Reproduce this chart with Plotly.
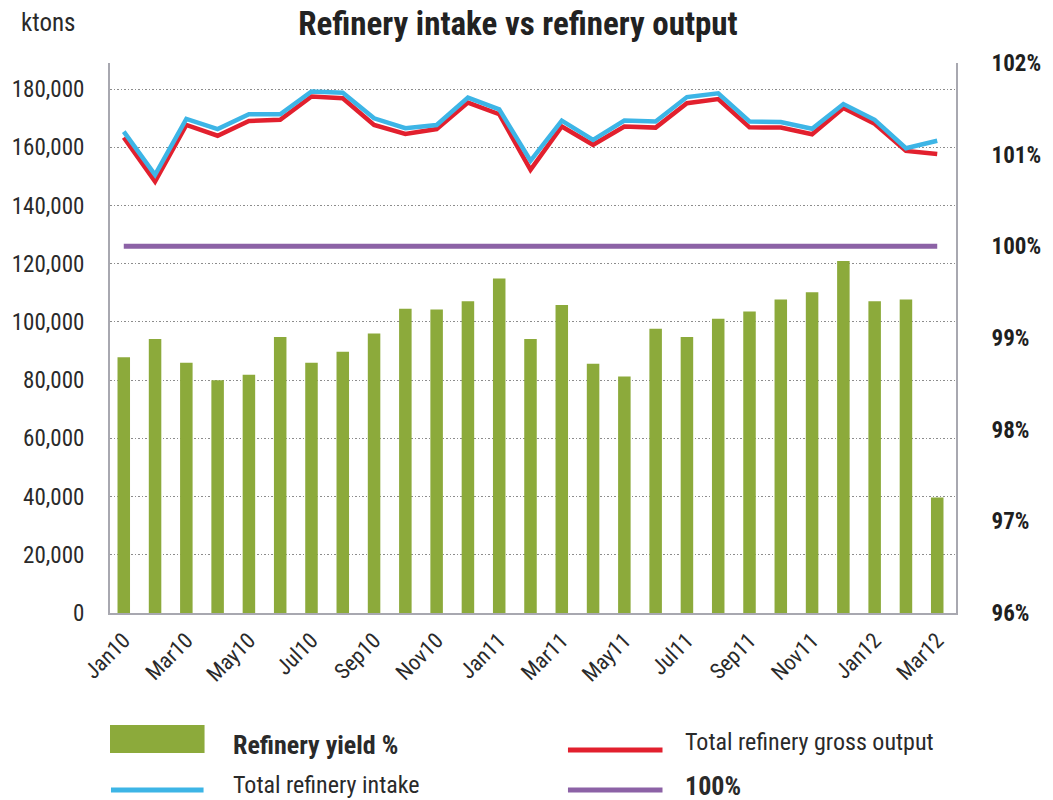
import plotly.graph_objects as go

months = ["Jan10", "Feb10", "Mar10", "Apr10", "May10", "Jun10", "Jul10", "Aug10", "Sep10",
          "Oct10", "Nov10", "Dec10", "Jan11", "Feb11", "Mar11", "Apr11", "May11", "Jun11",
          "Jul11", "Aug11", "Sep11", "Oct11", "Nov11", "Dec11", "Jan12", "Feb12", "Mar12"]

refinery_yield_pct = [98.79, 98.99, 98.73, 98.54, 98.60, 99.01, 98.73, 98.85, 99.05,
                      99.32, 99.31, 99.40, 99.65, 98.99, 99.36, 98.72, 98.58, 99.10,
                      99.01, 99.21, 99.29, 99.42, 99.50, 99.84, 99.40, 99.42, 97.26]

total_intake = [165400, 150600, 169800, 166300, 171400, 171400, 179200, 178800, 170000,
                166600, 167700, 177100, 173100, 155400, 169200, 162600, 169200, 168900,
                177300, 178600, 168900, 168700, 166400, 174900, 169500, 159700, 162300]

total_gross_output = [163400, 148300, 167700, 164000, 169100, 169500, 177500, 176900, 167700,
                      164600, 166300, 175400, 171400, 152300, 167200, 160900, 167200, 166800,
                      175200, 176600, 166900, 166800, 164500, 173500, 168100, 158800, 157700]

hundred_pct = [100.0] * len(months)

left_ticks = [0, 20000, 40000, 60000, 80000, 100000, 120000, 140000, 160000, 180000]
left_tick_text = ["0", "20,000", "40,000", "60,000", "80,000", "100,000", "120,000",
                  "140,000", "160,000", "180,000"]
right_ticks = [96, 97, 98, 99, 100, 101, 102]
right_tick_text = ["<b>96%</b>", "<b>97%</b>", "<b>98%</b>", "<b>99%</b>", "<b>100%</b>",
                   "<b>101%</b>", "<b>102%</b>"]
x_tick_labels = months[::2]
yield_base = 96

FONT = "Liberation Sans Narrow, Arial Narrow, Roboto Condensed, DejaVu Sans Condensed, sans-serif"
GREEN = "#8CAA3B"
BLUE = "#3DB5E6"
RED = "#E2202E"
PURPLE = "#8C62A6"
TXT = "#2a2a2a"

W, H = 1053, 800
L, R, T, B = 103, 962, 63, 613  # plot area in pixels


def px_x(x):
    return (x - L) / (R - L)


def px_y(y):
    return (B - y) / (B - T)


fig = go.Figure()

fig.add_trace(go.Bar(x=months, y=[v - yield_base for v in refinery_yield_pct], base=yield_base,
                     yaxis="y2", marker_color=GREEN, marker_line_width=0,
                     width=0.4, name="Refinery yield %", showlegend=False))
fig.add_trace(go.Scatter(x=months, y=hundred_pct, yaxis="y2", mode="lines",
                         line=dict(color=PURPLE, width=5), name="100%", showlegend=False))
fig.add_trace(go.Scatter(x=months, y=total_gross_output, yaxis="y", mode="lines",
                         line=dict(color=RED, width=4.5), name="Total refinery gross output",
                         showlegend=False))
fig.add_trace(go.Scatter(x=months, y=total_intake, yaxis="y", mode="lines",
                         line=dict(color=BLUE, width=4.5), name="Total refinery intake",
                         showlegend=False))

fig.update_layout(
    width=W, height=H,
    margin=dict(l=L, r=W - R, t=T, b=H - B),
    paper_bgcolor="white", plot_bgcolor="white",
    font=dict(family=FONT, size=20, color=TXT),
    showlegend=False,
    title=dict(text="<b>Refinery intake vs refinery output</b>", x=518 / W,
               y=1 - 23 / H, xanchor="center", yanchor="middle", xref="container",
               yref="container", font=dict(family=FONT, size=33, color="#222")),
    xaxis=dict(type="category", categoryorder="array", categoryarray=months,
               range=[-0.44, 26.6], tickmode="array", tickvals=x_tick_labels,
               ticktext=x_tick_labels, tickangle=-45, showgrid=False,
               showline=True, linecolor="#a8a8b0", linewidth=2, ticks="",
               ticklabelstandoff=4, tickfont=dict(size=22, color=TXT)),
    yaxis=dict(range=[0, 189000], tickmode="array", tickvals=left_ticks,
               ticktext=left_tick_text, showgrid=True, gridcolor="#8c8c8c",
               griddash="1.5px,2px", gridwidth=1, showline=True, linecolor="#a8a8b0",
               linewidth=2, ticks="", ticklabelstandoff=19, zeroline=False,
               tickfont=dict(size=23, color=TXT)),
    yaxis2=dict(range=[96, 102], overlaying="y", side="right", tickmode="array",
                tickvals=right_ticks, ticktext=right_tick_text, showgrid=False,
                showline=True, linecolor="#a8a8b0", linewidth=2, ticks="",
                ticklabelstandoff=29, zeroline=False,
                tickfont=dict(size=23, color="#1f1f1f")),
)

annotations = [
    dict(text="ktons", x=px_x(11), y=px_y(23), xanchor="left", yanchor="middle",
         font=dict(size=25, color=TXT)),
    dict(text="<b>Refinery yield %</b>", x=px_x(226), y=px_y(745), xanchor="left",
         yanchor="middle", font=dict(size=26, color=TXT)),
    dict(text="Total refinery intake", x=px_x(226), y=px_y(785), xanchor="left",
         yanchor="middle", font=dict(size=24, color=TXT)),
    dict(text="Total refinery gross output", x=px_x(685), y=px_y(742), xanchor="left",
         yanchor="middle", font=dict(size=24, color=TXT)),
    dict(text="<b>100%</b>", x=px_x(685), y=px_y(786), xanchor="left",
         yanchor="middle", font=dict(size=26, color=TXT)),
]
for a in annotations:
    a.update(xref="paper", yref="paper", showarrow=False)
fig.update_layout(annotations=annotations)

shapes = [
    dict(type="rect", x0=px_x(103), x1=px_x(199), y0=px_y(725), y1=px_y(753),
         fillcolor=GREEN, line=dict(width=0)),
    dict(type="line", x0=px_x(104), x1=px_x(198), y0=px_y(790), y1=px_y(790),
         line=dict(color=BLUE, width=5)),
    dict(type="line", x0=px_x(568), x1=px_x(664), y0=px_y(750), y1=px_y(750),
         line=dict(color=RED, width=5)),
    dict(type="line", x0=px_x(568), x1=px_x(664), y0=px_y(790), y1=px_y(790),
         line=dict(color=PURPLE, width=5)),
]
for s in shapes:
    s.update(xref="paper", yref="paper")
fig.update_layout(shapes=shapes)

fig.write_html(
    "out.html",
    config={"displayModeBar": False},
    post_script="document.body.style.margin='0';document.body.style.overflow='hidden';",
)
